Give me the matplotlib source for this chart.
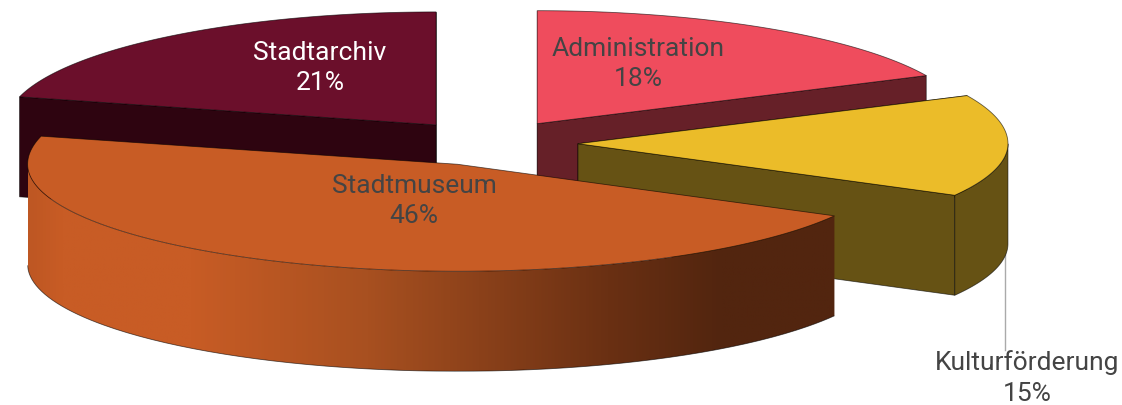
import matplotlib
matplotlib.use('Agg')
import matplotlib.pyplot as plt
import numpy as np
from matplotlib.colors import LinearSegmentedColormap
from matplotlib.patches import Polygon

plt.rcParams['font.family'] = ['Roboto', 'DejaVu Sans']

# chart data
categories = ['Administration', 'Kulturförderung', 'Stadtmuseum', 'Stadtarchiv']
shares = [18, 15, 46, 21]

top_colors = ['#EF4C5D', '#EBBC29', '#C85C25', '#6B0F2B']
side_colors = ['#662028', '#665214', '#52250F', '#2E0410']
label_colors = ['#444444', '#444444', '#444444', '#FFFFFF']
label_pos = [(638, 64), (1027, 378), (414, 201), (320, 68)]
draw_order = [3, 0, 1, 2]

# pie geometry in pixels, the front half of the ellipse looks a bit flatter
CX, CY = 490, 143
RX = 430
RY_BACK, RY_FRONT = 113, 107
DEPTH = 100
EXPLODE = 88
LEADER_X = 1005
EDGE = '#00000099'


def project(theta, apex):
    cos = np.cos(theta)
    return apex[0] + RX * np.sin(theta), apex[1] - np.where(cos > 0, RY_BACK, RY_FRONT) * cos


def draw_slice(ax, start, end, top, side, gradient=False):
    mid = (start + end) / 2
    apex = (CX + EXPLODE * np.sin(mid), CY - EXPLODE * 0.26 * np.cos(mid))
    theta = np.linspace(start, end, 200)
    x, y = project(theta, apex)

    # flat wall below the cut edge, only where it faces the viewer
    for angle in (start, end):
        ex, ey = project(angle, apex)
        if np.cos(angle) > 0 or angle == end:
            wall = [(apex[0], apex[1]), (ex, ey), (ex, ey + DEPTH), (apex[0], apex[1] + DEPTH)]
            if not gradient:
                ax.add_patch(Polygon(wall, closed=True, facecolor=side, edgecolor=EDGE, linewidth=0.6))

    # outer rim, front half of the ellipse only
    front = theta[(theta > np.pi / 2) & (theta < 3 * np.pi / 2)]
    if len(front):
        fx, fy = project(front, apex)
        rim = np.vstack([np.column_stack([fx, fy]), np.column_stack([fx, fy + DEPTH])[::-1]])
        if gradient:
            patch = Polygon(rim, closed=True, facecolor='none', edgecolor='none')
            ax.add_patch(patch)
            cmap = LinearSegmentedColormap.from_list('rim', [
                (0.0, '#BE5723'), (0.04, top), (0.2, top), (0.42, '#A85020'),
                (0.72, '#6A3013'), (0.86, side), (1.0, side)])
            im = ax.imshow(np.linspace(0, 1, 512).reshape(1, -1), cmap=cmap, aspect='auto',
                           extent=(fx.min(), fx.max(), fy.max() + DEPTH, fy.min()), zorder=patch.get_zorder())
            im.set_clip_path(patch)
            ax.plot(fx, fy + DEPTH, color=EDGE, linewidth=0.6, solid_capstyle='butt')
        else:
            ax.add_patch(Polygon(rim, closed=True, facecolor=side, edgecolor=EDGE, linewidth=0.6))

    outline = np.vstack([[apex], np.column_stack([x, y])])
    ax.add_patch(Polygon(outline, closed=True, facecolor=top, edgecolor=EDGE, linewidth=0.6, zorder=3))


fig = plt.figure(figsize=(11.22, 4.05), dpi=100)
ax = fig.add_axes([0, 0, 1, 1])

edges = np.concatenate([[0], np.cumsum(shares)]) / sum(shares) * 2 * np.pi
ax.plot([LEADER_X, LEADER_X], [CY, 350], color='#AAAAAA', linewidth=1, zorder=0)

for i in draw_order:
    draw_slice(ax, edges[i], edges[i + 1], top_colors[i], side_colors[i],
               gradient=categories[i] == 'Stadtmuseum')

for name, share, color, pos in zip(categories, shares, label_colors, label_pos):
    ax.text(pos[0], pos[1], f'{name}\n{share}%', color=color, fontsize=19,
            ha='center', va='center', linespacing=1.35, zorder=5)

ax.set_xlim(0, 1122)
ax.set_ylim(405, 0)
ax.axis('off')

fig.savefig('out.png', dpi=100)
